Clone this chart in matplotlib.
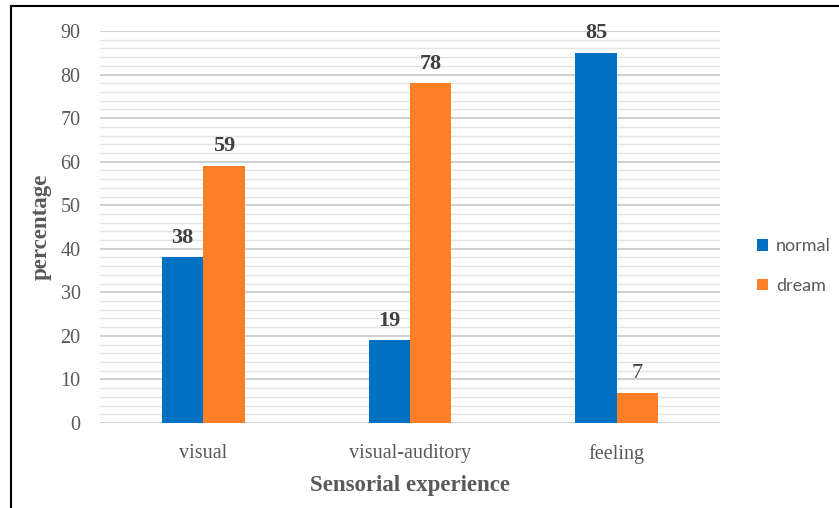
import numpy as np
import matplotlib.pyplot as plt
from matplotlib.lines import Line2D

categories = ["visual", "visual-auditory", "feeling"]
normal = [38, 19, 85]
dream = [59, 78, 7]
normal_bold = [True, True, True]
dream_bold = [True, True, False]

BLUE = "#0070C0"
ORANGE = "#FF7F27"
GRAY = "#595959"
SERIF = "Liberation Serif"

fig = plt.figure(figsize=(8.39, 5.08), dpi=100)
W, H = 839, 508
ax = fig.add_axes([100 / W, 1 - 423 / H, 620 / W, (423 - 31) / H])

x = np.arange(len(categories))
bw = 0.2
b1 = ax.bar(x - bw / 2, normal, bw, color=BLUE, label="normal", zorder=3)
b2 = ax.bar(x + bw / 2, dream, bw, color=ORANGE, label="dream", zorder=3)

for bars, vals, bold in [(b1, normal, normal_bold), (b2, dream, dream_bold)]:
    for r, v, bd in zip(bars, vals, bold):
        ax.annotate(str(v), (r.get_x() + r.get_width() / 2, v),
                    xytext=(0, 7), textcoords="offset points",
                    ha="center", va="bottom", fontsize=16, family=SERIF,
                    fontweight="bold" if bd else "normal", color="#404040")

ax.set_xlim(-0.5, 2.5)
ax.set_ylim(0, 90)
ax.set_yticks(np.arange(0, 91, 10))
ax.set_yticks(np.arange(0, 91, 2), minor=True)
ax.grid(axis="y", which="major", color="#D0D0D0", lw=1.4, zorder=0)
ax.grid(axis="y", which="minor", color="#E4E4E4", lw=1.0, zorder=0)
ax.set_xticks(x)
ax.set_xticklabels(categories)
for s in ax.spines.values():
    s.set_visible(False)
ax.tick_params(axis="both", which="both", length=0, labelsize=14.5, labelcolor=GRAY)
ax.tick_params(axis="y", pad=14)
ax.tick_params(axis="x", pad=15)
for t in ax.get_xticklabels() + ax.get_yticklabels():
    t.set_family(SERIF)

ax.set_xlabel("Sensorial experience", family=SERIF, fontsize=16.5, fontweight="bold",
              color=GRAY, labelpad=8)
ax.set_ylabel("percentage", family=SERIF, fontsize=16.5, fontweight="bold",
              color=GRAY, labelpad=6)

fig.legend(handles=[b1, b2], labels=["normal", "dream"], loc="center left",
           bbox_to_anchor=(741 / W, 1 - 266 / H), frameon=False,
           prop={"family": "Lato", "size": 13}, labelcolor=GRAY,
           handlelength=0.6, handleheight=0.6, handletextpad=0.45, labelspacing=1.3)

# frame edges visible in the reference crop
fig.add_artist(Line2D([11 / W, 11 / W], [0, 1 - 6 / H], color="black", lw=1.5))
fig.add_artist(Line2D([11 / W, 1], [1 - 6 / H, 1 - 6 / H], color="black", lw=1.5))

fig.savefig("out.png", dpi=100)
